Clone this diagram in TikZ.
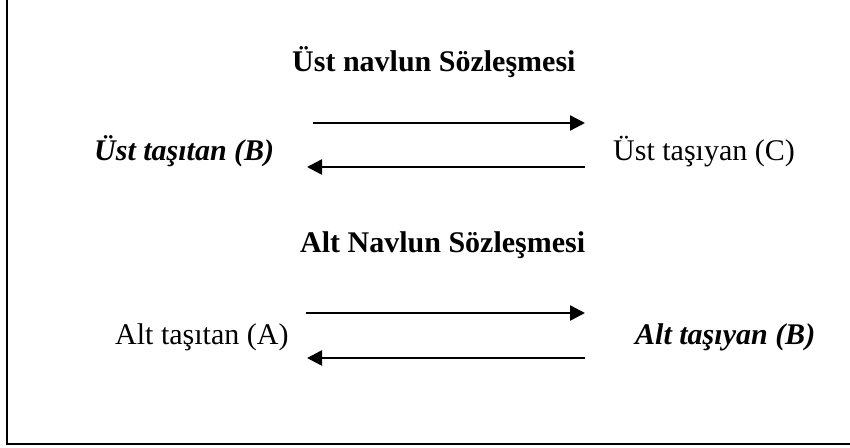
\documentclass[tikz,border=0pt]{standalone}
\usepackage{fontspec}
\setmainfont{Liberation Serif}
\usetikzlibrary{arrows.meta}
\tikzset{
  party/.style={font=\fontsize{30}{34}\selectfont, inner sep=0pt, anchor=base west},
  partyb/.style={party, font=\fontsize{30}{34}\selectfont\bfseries\itshape},
  contract/.style={font=\fontsize{30}{34}\selectfont\bfseries, inner sep=0pt, anchor=base west},
  flow/.style={line width=2.5pt, -{Triangle[length=15pt,width=15pt]}},
}
\begin{document}
\begin{tikzpicture}[x=1pt,y=-1pt]
\useasboundingbox (0,0) rectangle (850,447);
\clip (0,0) rectangle (850,447);
% outer frame (open towards the top and right edges)
\draw[line width=2.2pt] (7,-20) rectangle (880,444);

% upper contract
\node[contract] (t1) at (292,71) {Üst navlun Sözleşmesi};
\node[partyb] (b1) at (94,160) {Üst taşıtan (B)};
\node[party] (c1) at (613,160) {Üst taşıyan (C)};
\coordinate (u1s) at (313,123);
\coordinate (u1e) at (585,123);
\coordinate (l1s) at (585,167);
\coordinate (l1e) at (307,167);
\draw[flow] (u1s) -- (u1e);
\draw[flow] (l1s) -- (l1e);

% lower contract
\node[contract] (t2) at (300,252) {Alt Navlun Sözleşmesi};
\node[party] (a2) at (115,344) {Alt taşıtan (A)};
\node[partyb] (b2) at (635,344) {Alt taşıyan (B)};
\coordinate (u2s) at (306,313);
\coordinate (u2e) at (585,313);
\coordinate (l2s) at (585,358);
\coordinate (l2e) at (307,358);
\draw[flow] (u2s) -- (u2e);
\draw[flow] (l2s) -- (l2e);
\end{tikzpicture}
\end{document}
